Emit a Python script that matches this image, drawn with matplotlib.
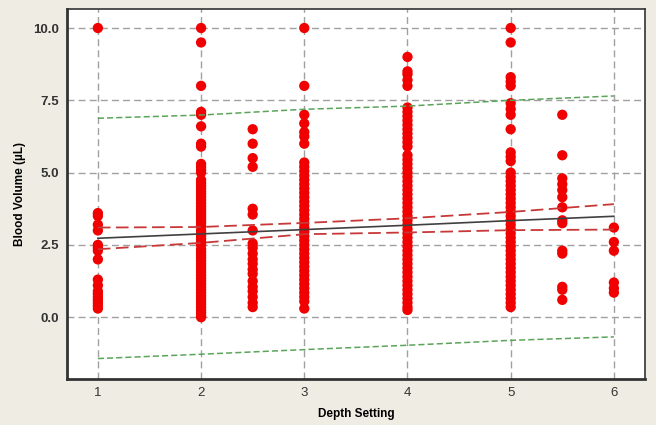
import numpy as np
import matplotlib
matplotlib.use("Agg")
import matplotlib.pyplot as plt

plt.rcParams['font.family'] = ['Liberation Sans', 'DejaVu Sans']

# blood volume readings per depth setting
depth_1 = [10.0, 3.6, 3.5, 3.2, 3.0, 2.5, 2.4, 2.3, 2.0, 1.3, 1.1, 0.9, 0.8,
           0.7, 0.6, 0.5, 0.4, 0.3]
depth_2 = [10.0, 9.5, 8.0, 7.1, 7.0, 6.6, 6.0, 5.9, 5.3, 5.2, 5.1, 5.0,
           4.75, 4.65, 4.55, 4.45, 4.35, 4.25, 4.15, 4.05, 3.95, 3.85, 3.75,
           3.65, 3.55, 3.45, 3.35, 3.25, 3.15, 3.0, 2.9, 2.8, 2.7, 2.6, 2.5,
           2.35, 2.25, 2.15, 2.05, 1.95, 1.85, 1.75, 1.65, 1.55, 1.45, 1.35,
           1.25, 1.15, 1.05, 0.95, 0.85, 0.75, 0.65, 0.55, 0.45, 0.35, 0.25,
           0.15, 0.05, 0.0]
depth_25 = [6.5, 6.0, 5.5, 5.2, 3.75, 3.55, 3.0, 2.55, 2.4, 2.2, 2.0, 1.85,
            1.65, 1.5, 1.25, 1.05, 0.9, 0.7, 0.5, 0.35]
depth_3 = [10.0, 8.0, 7.0, 6.7, 6.4, 6.25, 6.0, 5.35, 5.2, 5.05, 4.9, 4.75,
           4.6, 4.45, 4.3, 4.15, 4.0, 3.85, 3.7, 3.55, 3.4, 3.25, 3.1, 2.95,
           2.8, 2.65, 2.5, 2.35, 2.2, 2.05, 1.9, 1.75, 1.6, 1.45, 1.3, 1.15,
           1.0, 0.85, 0.7, 0.55, 0.3]
depth_4 = [9.0, 8.5, 8.4, 8.2, 8.0, 7.25, 7.1, 6.95, 6.8, 6.65, 6.5, 6.35,
           6.2, 6.05, 5.9, 5.6, 5.45, 5.3, 5.15, 5.0, 4.85, 4.7, 4.55, 4.4,
           4.25, 4.1, 3.95, 3.8, 3.65, 3.5, 3.35, 3.2, 3.05, 2.9, 2.75, 2.6,
           2.45, 2.3, 2.15, 2.0, 1.85, 1.7, 1.55, 1.4, 1.25, 1.1, 0.95, 0.8,
           0.65, 0.5, 0.35, 0.25]
depth_5 = [10.0, 9.5, 8.3, 8.15, 8.0, 7.4, 7.2, 7.0, 6.5, 5.7, 5.55, 5.4,
           5.0, 4.85, 4.7, 4.55, 4.4, 4.25, 4.1, 3.95, 3.8, 3.65, 3.5, 3.35,
           3.2, 3.05, 2.9, 2.75, 2.6, 2.45, 2.3, 2.15, 2.0, 1.85, 1.7, 1.55,
           1.4, 1.25, 1.1, 0.95, 0.8, 0.65, 0.5, 0.35]
depth_55 = [7.0, 5.6, 4.8, 4.6, 4.4, 4.15, 3.8, 3.35, 3.25, 2.3, 2.2, 1.05,
            0.95, 0.6]
depth_6 = [3.1, 2.6, 2.3, 1.2, 1.0, 0.85]

settings = [1, 2, 2.5, 3, 4, 5, 5.5, 6]
volumes = [depth_1, depth_2, depth_25, depth_3, depth_4, depth_5, depth_55, depth_6]

# fitted line and bands at depth 1..6
band_x = [1, 2, 3, 4, 5, 6]
fit = [2.73, 2.88, 3.03, 3.18, 3.34, 3.49]
ci_hi = [3.10, 3.12, 3.26, 3.42, 3.64, 3.91]
ci_lo = [2.35, 2.57, 2.87, 2.93, 3.01, 3.03]
pi_hi = [6.88, 6.99, 7.19, 7.30, 7.50, 7.65]
pi_lo = [-1.43, -1.28, -1.12, -0.97, -0.80, -0.68]

fig = plt.figure(figsize=(6.56, 4.25), dpi=100, facecolor='#efece3')
ax = fig.add_axes([0.102, 0.108, 0.881, 0.871])
ax.set_facecolor('white')

ax.grid(True, color='#a0a0a0', linestyle=(0, (5, 3)), linewidth=1.0)
ax.set_axisbelow(True)

for s, v in zip(settings, volumes):
    ax.scatter([s] * len(v), v, s=55, color='#f00000', edgecolors='none', zorder=3)

ax.plot(band_x, pi_hi, color='#5aa55a', linestyle=(0, (4, 2)), linewidth=1.1, zorder=4)
ax.plot(band_x, pi_lo, color='#5aa55a', linestyle=(0, (4, 2)), linewidth=1.1, zorder=4)
ax.plot(band_x, ci_hi, color='#c83838', linestyle=(0, (7, 3)), linewidth=1.3, zorder=4)
ax.plot(band_x, ci_lo, color='#c83838', linestyle=(0, (7, 3)), linewidth=1.3, zorder=4)
ax.plot(band_x, fit, color='#404040', linewidth=1.2, zorder=4)

ax.set_xlim(0.70, 6.30)
ax.set_ylim(-2.14, 10.66)
ax.set_xticks([1, 2, 3, 4, 5, 6])
ax.set_yticks([0, 2.5, 5.0, 7.5, 10.0])
ax.set_yticklabels(['0.0', '2.5', '5.0', '7.5', '10.0'])
ax.tick_params(length=0, labelsize=9.5, colors='#333333', pad=6)
for lab in ax.get_yticklabels():
    lab.set_fontweight('bold')

for side in ['left', 'bottom']:
    ax.spines[side].set_linewidth(2.0)
    ax.spines[side].set_color('#333333')
for side in ['top', 'right']:
    ax.spines[side].set_linewidth(1.2)
    ax.spines[side].set_color('#333333')

ax.set_xlabel('Depth Setting', fontsize=8.5, fontweight='bold', labelpad=6)
ax.set_ylabel('Blood Volume (µL)', fontsize=8.5, fontweight='bold', labelpad=5)

fig.savefig('out.png', dpi=100, facecolor=fig.get_facecolor())
